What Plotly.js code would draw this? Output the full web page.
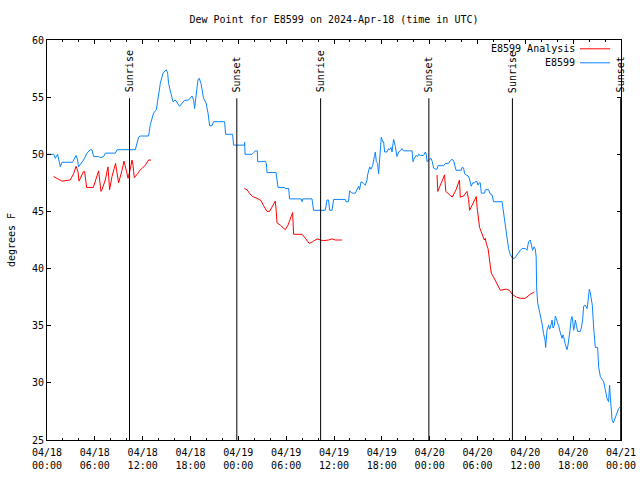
<!DOCTYPE html>
<html><head><meta charset="utf-8">
<script src="https://cdn.plot.ly/plotly-3.0.1.min.js"></script>
<style>html,body{margin:0;padding:0;background:#fff}</style>
</head><body><div id="chart" style="width:640px;height:480px"></div>
<script>
// Hours after 2024-04-18 00:00 UTC
const obsHours = [0,0.83,1.04,1.33,1.67,1.88,3.21,3.64,3.84,3.96,4.59,5.02,5.43,5.64,5.85,6.47,6.69,7.10,7.31,8.57,8.78,11.08,11.49,11.70,12.74,12.96,13.37,13.71,14.00,14.21,14.55,14.84,14.97,15.13,15.25,15.55,15.81,16.09,16.63,17.22,17.76,18.19,18.39,18.51,18.73,18.94,19.10,19.32,19.64,19.94,20.20,20.40,20.70,20.90,22.28,22.40,23.28,23.41,24.75,24.79,24.84,25.72,25.92,26.13,26.38,26.42,26.88,27.38,27.51,27.60,28.73,28.85,28.98,29.80,29.89,30.31,30.43,31.90,31.99,32.11,33.24,33.44,34.91,35.12,35.32,35.45,35.75,35.95,37.42,37.51,37.83,37.96,38.26,38.67,38.89,39.09,39.21,39.39,39.71,39.93,40.14,40.22,40.47,40.64,40.84,40.97,41.09,41.18,41.31,41.47,41.60,41.72,41.81,41.93,42.10,42.22,42.35,42.65,42.85,42.98,43.15,43.28,43.40,43.48,43.69,43.90,44.10,44.32,44.53,44.73,45.79,45.91,46.07,46.32,46.49,46.61,46.83,47.24,47.45,47.58,47.67,47.87,48.17,48.33,48.49,48.71,48.92,49.05,49.75,49.96,50.38,50.59,50.80,51.00,51.13,51.31,51.97,52.06,52.26,52.38,52.56,52.81,52.97,53.22,53.39,53.64,53.73,53.94,54.06,54.23,54.35,54.48,54.89,54.98,55.39,55.61,55.82,56.02,57.08,57.28,57.49,57.70,57.90,58.12,58.41,58.66,58.96,59.16,59.37,59.58,60.00,60.21,60.41,60.62,60.75,60.91,61.09,61.25,61.36,61.42,61.55,61.75,61.97,62.13,62.29,62.47,62.55,62.63,62.72,62.92,63.05,63.22,63.35,63.47,63.64,63.76,63.89,64.05,64.17,64.30,64.48,64.60,64.73,64.80,64.98,65.10,65.23,65.35,65.55,65.64,65.73,65.86,65.98,66.06,66.18,66.27,66.40,66.56,66.90,67.02,67.19,67.31,67.52,67.74,67.86,68.03,68.15,68.28,68.40,68.57,68.78,69.07,69.19,69.41,69.62,69.82,70.03,70.24,70.44,70.57,70.66,70.75,70.88,71.04,71.17,71.33,71.50,71.70,71.91];
const obsValues = [50.0,50.0,49.65,50.0,48.9,49.3,49.3,49.9,49.5,48.9,49.5,50.1,50.4,50.4,49.8,49.8,49.7,49.8,50.1,50.1,50.4,50.4,51.5,51.6,51.6,52.6,53.6,53.9,55.2,56.2,57.1,57.3,57.4,57.1,56.2,55.3,54.6,54.75,54.2,54.7,54.75,55.1,54.75,54.0,55.6,56.5,56.65,56.2,54.9,54.5,53.6,52.5,52.5,52.85,52.85,51.75,51.75,50.8,50.8,51.05,50.0,50.0,50.15,50.3,50.3,49.35,49.35,49.4,49.2,48.4,48.4,47.75,47.1,47.1,47.0,47.0,46.1,46.1,45.85,46.1,46.1,45.1,45.1,46.0,46.0,45.1,45.1,46.05,46.05,45.85,45.85,46.8,46.6,46.6,47.0,47.2,46.9,47.6,47.45,47.3,47.75,48.2,48.9,48.7,49.0,49.35,49.9,50.2,49.35,49.2,48.3,49.5,50.7,51.5,51.1,51.1,50.2,50.2,50.5,50.4,50.6,50.2,50.95,51.3,50.7,49.8,50.2,50.3,50.5,50.3,50.3,49.35,49.65,49.9,49.8,50.0,49.9,49.9,50.2,50.0,49.35,49.5,49.65,49.35,48.8,48.7,48.7,49.0,49.0,49.2,49.2,49.45,49.55,49.45,49.0,48.6,48.6,48.85,48.8,48.3,48.2,48.1,47.9,47.2,47.5,47.5,47.6,47.6,47.3,47.5,47.5,46.6,46.6,46.9,46.9,46.5,46.45,45.85,45.85,44.95,43.9,42.8,41.75,41.2,40.9,40.9,41.2,41.5,41.6,41.75,41.75,41.6,42.35,42.5,42.05,41.6,41.9,41.7,41.0,38.3,37.0,36.4,35.65,35.05,34.3,33.75,33.1,33.9,34.6,35.05,34.7,35.05,35.5,34.8,35.05,35.85,35.65,35.2,35.05,34.6,34.2,33.9,34.2,34.05,33.45,33.15,32.9,33.3,34.2,34.8,35.5,35.8,35.2,34.6,35.05,35.5,35.05,34.5,34.5,34.8,35.5,36.7,36.8,36.5,37.1,38.2,37.85,37.4,36.8,34.8,33.1,33.1,31.4,30.55,30.25,30.1,29.4,28.65,28.35,29.8,28.8,27.6,26.75,26.5,26.75,27.0,27.3,27.75,27.9];
const anaHours = [0.83,1.25,1.88,2.92,3.34,3.64,3.89,4.01,4.27,4.59,4.72,4.97,5.81,6.06,6.47,6.77,6.90,7.31,7.65,7.85,8.15,8.60,8.73,8.98,9.41,9.66,9.98,10.16,10.45,10.66,10.79,10.95,11.36,11.70,11.99,12.33,12.74,13.05,18.0,24.75,25.09,25.38,25.79,26.34,26.84,27.17,27.60,27.92,28.22,28.64,28.76,28.85,29.26,29.55,29.89,30.23,30.52,30.81,30.93,31.99,32.40,32.90,33.32,33.87,34.28,34.70,35.32,35.75,36.16,37.00,43.0,48.92,49.02,49.34,49.62,49.87,50.02,50.38,50.84,51.31,51.74,51.84,52.26,52.68,52.88,53.01,53.22,53.51,53.85,53.94,54.06,54.26,54.48,54.69,54.85,54.98,55.10,55.32,55.49,55.73,55.98,56.44,56.86,57.61,57.99,58.37,58.87,59.37,59.99,60.62,61.12];
const anaValues = [48.05,47.9,47.65,47.75,48.3,48.95,48.5,47.65,48.0,48.5,48.5,47.1,47.1,47.6,48.55,46.75,46.9,47.75,48.9,46.9,48.05,49.2,48.5,47.5,48.6,49.4,48.5,47.9,48.7,49.5,49.05,47.95,48.3,48.65,48.8,49.05,49.5,49.5,null,47.0,46.9,46.6,46.3,46.15,45.95,45.5,45.0,45.0,45.35,45.9,45.0,44.0,43.8,43.6,43.4,43.8,44.4,44.9,43.0,43.0,42.65,42.2,42.35,42.6,42.5,42.45,42.5,42.6,42.5,42.5,null,48.2,46.75,47.3,47.8,48.2,46.75,46.5,46.25,46.9,47.75,46.25,46.35,46.75,46.05,45.1,45.4,45.85,46.3,45.4,44.6,43.6,43.2,42.8,42.5,42.65,42.2,41.75,41.0,39.6,39.3,38.6,38.1,38.2,38.1,37.75,37.5,37.4,37.4,37.75,37.95];
const sunHours = [10.35,23.81,34.32,47.90,58.38,71.96];
const sunLabels = ['Sunrise','Sunset','Sunrise','Sunset','Sunrise','Sunset'];
const seriesNames = ['E8599 Analysis','E8599'];
const seriesColors = ['#ff0000','#0a84ff'];
const titleText = 'Dew Point for E8599 on 2024-Apr-18 (time in UTC)';
const yTitle = 'degrees F';

const base = Date.UTC(2024,3,18);
function toDate(h){
  const d = new Date(base + Math.round(h*3600000));
  return d.toISOString().slice(0,19).replace('T',' ');
}
const FONT = {family:'DejaVu Sans Mono, Liberation Mono, monospace', size:10, color:'#000'};

const traces = [
  {x: anaHours.map(toDate), y: anaValues, name: seriesNames[0], type:'scatter', mode:'lines',
   line:{color:seriesColors[0], width:1}, connectgaps:false},
  {x: obsHours.map(toDate), y: obsValues, name: seriesNames[1], type:'scatter', mode:'lines',
   line:{color:seriesColors[1], width:1}}
];

const shapes = [];
const annotations = [];
sunHours.forEach((h,i)=>{
  shapes.push({type:'line', xref:'x', yref:'y', x0:toDate(h), x1:toDate(h), y0:25, y1:54.9,
    line:{color:'#000', width:1}});
  annotations.push({xref:'x', yref:'y', x:toDate(h), y:55.3, text:sunLabels[i], showarrow:false,
    textangle:-90, xanchor:'center', yanchor:'bottom', font:FONT, borderpad:0});
});
// legend (text left, line sample right, as in the reference)
const legY = [0.978, 0.943];
seriesNames.forEach((n,i)=>{
  annotations.push({xref:'paper', yref:'paper', x:0.921, y:legY[i], text:n, showarrow:false,
    xanchor:'right', yanchor:'middle', font:FONT, borderpad:0});
  shapes.push({type:'line', xref:'paper', yref:'paper', x0:0.9286, x1:0.981, y0:legY[i], y1:legY[i],
    line:{color:seriesColors[i], width:1}});
});

const layout = {
  width:640, height:480,
  margin:{l:47, r:19, t:40, b:40},
  paper_bgcolor:'#fff', plot_bgcolor:'#fff',
  font: FONT,
  showlegend:false,
  title:{text:titleText, font:FONT, x:0.5, xref:'paper', y:1-19/480, yref:'container', yanchor:'middle'},
  xaxis:{type:'date', range:[toDate(0), toDate(72)], tick0:toDate(0), dtick:6*3600000,
    tickformat:'%m/%d<br>%H:%M', ticks:'inside', ticklen:4, tickcolor:'#000', tickwidth:1,
    ticklabelstandoff:3,
    minor:{dtick:2*3600000, ticks:'inside', ticklen:2, tickcolor:'#000', tickwidth:1, showgrid:false},
    showline:true, linecolor:'#000', linewidth:1, mirror:'ticks', showgrid:false, zeroline:false,
    tickfont:FONT, fixedrange:true},
  yaxis:{range:[25,60], dtick:5, tick0:25, ticks:'inside', ticklen:4, tickcolor:'#000', tickwidth:1,
    showline:true, linecolor:'#000', linewidth:1, mirror:'ticks', showgrid:false, zeroline:false,
    tickfont:FONT, title:{text:yTitle, font:FONT, standoff:14}},
  shapes: shapes,
  annotations: annotations
};
Plotly.newPlot('chart', traces, layout, {displayModeBar:false, staticPlot:true});
</script>
</body></html>
